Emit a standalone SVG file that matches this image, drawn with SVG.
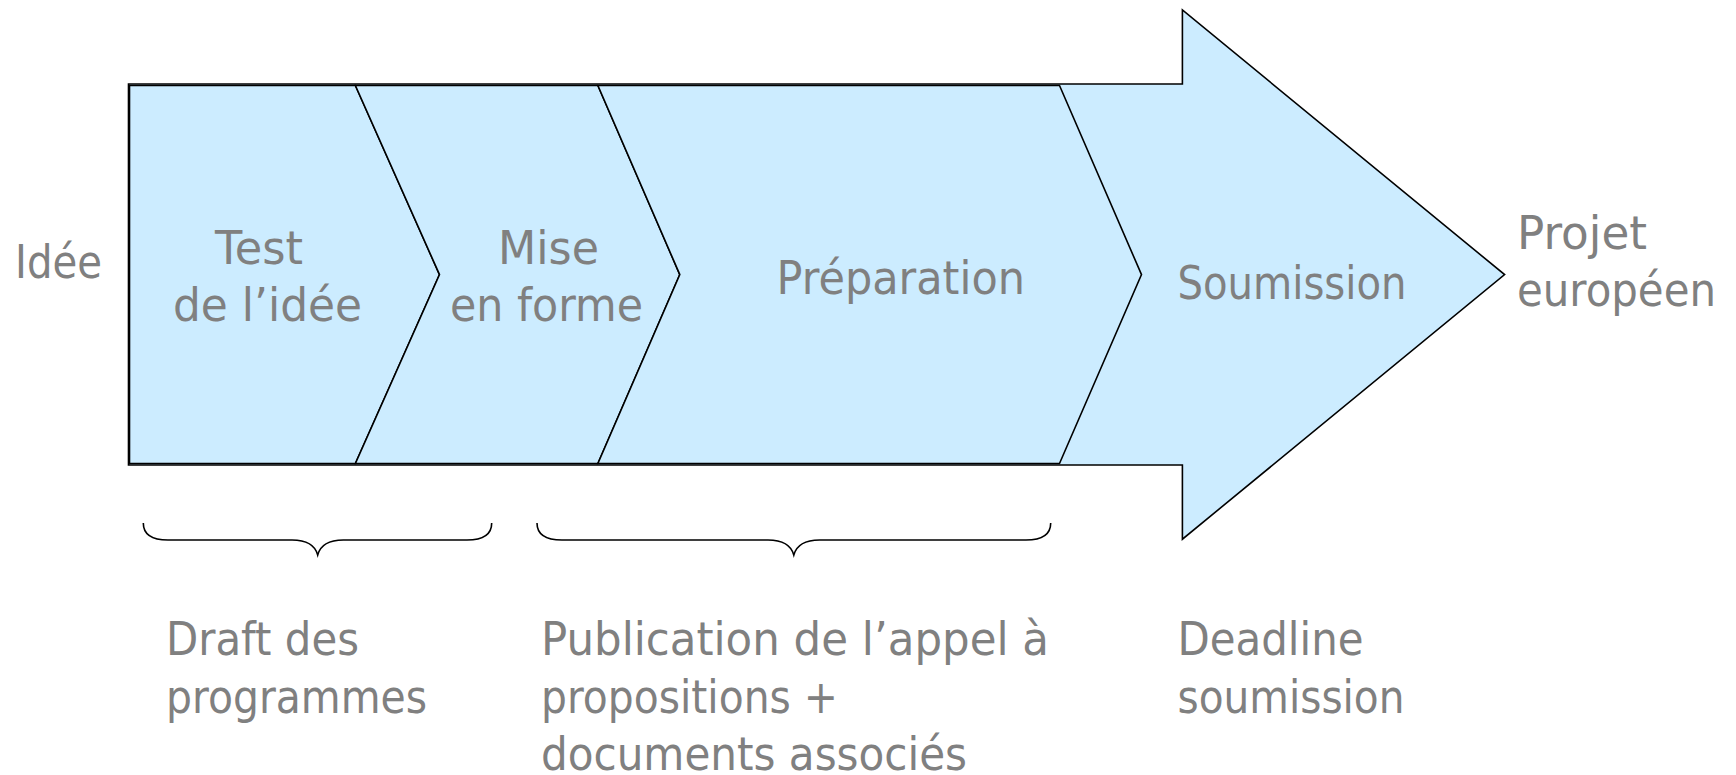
<svg xmlns="http://www.w3.org/2000/svg" width="1736" height="775" viewBox="0 0 1736 775">
<style>
.shape{fill:#CCECFF;stroke:#000;stroke-width:1.6;stroke-linejoin:miter}
.t{font-family:"DejaVu Sans","Liberation Sans",sans-serif;font-size:46px;fill:#808080}
.brace{fill:none;stroke:#000;stroke-width:1.6}
</style>
<rect width="1736" height="775" fill="#fff"/>
<g id="big-arrow">
<polygon class="shape" points="128.5,84 1182.4,84 1182.4,10 1504.6,274.6 1182.4,539.2 1182.4,465 128.5,465"/>
<text class="t" x="1177.5" y="299" textLength="229" lengthAdjust="spacingAndGlyphs">Soumission</text>
</g>
<g id="step-test">
<polygon class="shape" points="129.5,85.5 355.4,85.5 439.5,274.6 355.4,463.5 129.5,463.5"/>
<text class="t" x="215" y="264" textLength="88" lengthAdjust="spacingAndGlyphs">Test</text>
<text class="t" x="173" y="321" textLength="189" lengthAdjust="spacingAndGlyphs">de l’idée</text>
</g>
<g id="step-mise">
<polygon class="shape" points="355.4,85.5 597.9,85.5 679.8,274.6 597.9,463.5 355.4,463.5 439.5,274.6"/>
<text class="t" x="498" y="264" textLength="101" lengthAdjust="spacingAndGlyphs">Mise</text>
<text class="t" x="450" y="321" textLength="193" lengthAdjust="spacingAndGlyphs">en forme</text>
</g>
<g id="step-preparation">
<polygon class="shape" points="597.9,85.5 1059.5,85.5 1141.5,274.6 1059.5,463.5 597.9,463.5 679.8,274.6"/>
<text class="t" x="776.5" y="293.5" textLength="248.5" lengthAdjust="spacingAndGlyphs">Préparation</text>
</g>
<g id="idee">
<text class="t" x="15" y="278.3" textLength="87" lengthAdjust="spacingAndGlyphs">Idée</text>
</g>
<g id="projet">
<text class="t" x="1517" y="249" textLength="130" lengthAdjust="spacingAndGlyphs">Projet</text>
<text class="t" x="1517" y="306" textLength="199" lengthAdjust="spacingAndGlyphs">européen</text>
</g>
<g id="connectors">
<path class="brace" d="M143.3,523 C143.3,535 152,540 168,540 L292,540 C307,540 315,545 317.7,555 C320.4,545 328.4,540 343.4,540 L467,540 C483,540 491.7,535 491.7,523"/>
<path class="brace" d="M537,523 C537,535 546,540 562,540 L768,540 C783,540 791,545 793.8,555 C796.6,545 804.6,540 819.6,540 L1026,540 C1042,540 1050.7,535 1050.7,523"/>
</g>
<g id="label-draft">
<text class="t" x="166" y="655" textLength="193" lengthAdjust="spacingAndGlyphs">Draft des</text>
<text class="t" x="166" y="712.5" textLength="261" lengthAdjust="spacingAndGlyphs">programmes</text>
</g>
<g id="label-publication">
<text class="t" x="541" y="655" textLength="508" lengthAdjust="spacingAndGlyphs">Publication de l’appel à</text>
<text class="t" x="541" y="712.5" textLength="297" lengthAdjust="spacingAndGlyphs">propositions +</text>
<text class="t" x="541" y="770" textLength="426" lengthAdjust="spacingAndGlyphs">documents associés</text>
</g>
<g id="label-deadline">
<text class="t" x="1177.5" y="655" textLength="186" lengthAdjust="spacingAndGlyphs">Deadline</text>
<text class="t" x="1177.5" y="712.5" textLength="227" lengthAdjust="spacingAndGlyphs">soumission</text>
</g>
</svg>
